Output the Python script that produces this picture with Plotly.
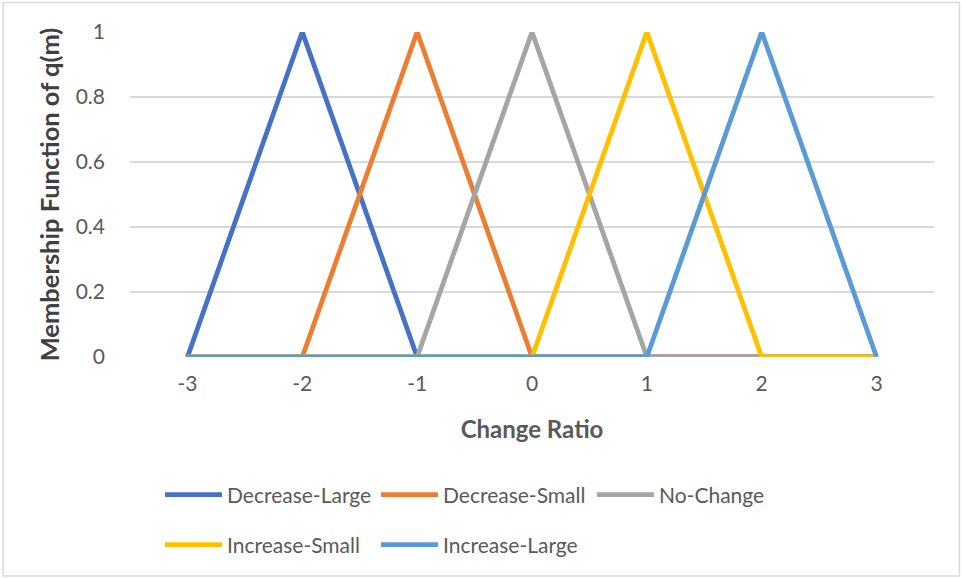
import plotly.graph_objects as go

# Change-ratio categories and triangular membership values per fuzzy set
change_ratio = [-3, -2, -1, 0, 1, 2, 3]
tick_labels = ["-3", "-2", "-1", "0", "1", "2", "3"]

decrease_large = [0, 1, 0, 0, 0, 0, 0]
decrease_small = [0, 0, 1, 0, 0, 0, 0]
no_change = [0, 0, 0, 1, 0, 0, 0]
increase_small = [0, 0, 0, 0, 1, 0, 0]
increase_large = [0, 0, 0, 0, 0, 1, 0]

series = [
    ("Decrease-Large", decrease_large, "#4472C4", "legend"),
    ("Decrease-Small", decrease_small, "#ED7D31", "legend"),
    ("No-Change", no_change, "#A5A5A5", "legend"),
    ("Increase-Small", increase_small, "#FFC000", "legend2"),
    ("Increase-Large", increase_large, "#5B9BD5", "legend2"),
]

W, H = 962, 578
ML, MR, MT, MB = 129.5, 27.5, 32, 221
FONT = "Lato, 'Open Sans', sans-serif"
GRID = "#D9D9D9"
TEXT = "#595959"

fig = go.Figure()
for name, vals, color, leg in series:
    fig.add_trace(go.Scatter(
        x=change_ratio, y=vals, name=name, mode="lines",
        line=dict(color=color, width=4.8),
        legend=leg, hoverinfo="skip",
    ))

pw = W - ML - MR
ph = H - MT - MB

def px_x(p):
    return (p - ML) / pw

def px_y(p):
    return (H - MB - p) / ph

legend_style = dict(
    orientation="h", xref="container", yref="container",
    xanchor="left", yanchor="middle",
    entrywidth=144, itemwidth=57, font=dict(size=21, color=TEXT),
    bgcolor="rgba(0,0,0,0)",
)

fig.update_layout(
    width=W, height=H,
    margin=dict(l=ML, r=MR, t=MT, b=MB, autoexpand=False),
    paper_bgcolor="white", plot_bgcolor="white",
    font=dict(family=FONT, size=21, color=TEXT),
    showlegend=True,
    legend=dict(legend_style, x=160 / W, y=1 - 495 / H),
    legend2=dict(legend_style, x=160 / W, y=1 - 545 / H),
    xaxis=dict(
        range=[-3.5, 3.5], tickvals=change_ratio, ticktext=tick_labels,
        showgrid=False, zeroline=False, showline=False, ticks="",
        ticklabelstandoff=12, fixedrange=True,
        title=dict(text="<b>Change Ratio</b>", standoff=27,
                   font=dict(size=24, color=TEXT)),
    ),
    yaxis=dict(
        range=[0, 1], tickvals=[0, 0.2, 0.4, 0.6, 0.8, 1],
        ticktext=["0", "0.2", "0.4", "0.6", "0.8", "1"],
        showgrid=True, gridcolor=GRID, gridwidth=1.5,
        zeroline=False, showline=False, ticks="",
        ticklabelstandoff=24, fixedrange=True,
        title=dict(text="<b>Membership Function of q(m)</b>", standoff=8,
                   font=dict(size=25.5, color="#404040")),
    ),
    shapes=[
        dict(type="rect", xref="paper", yref="paper",
             x0=px_x(2.5), x1=px_x(960), y0=px_y(576), y1=px_y(2.5),
             line=dict(color=GRID, width=1.5), layer="below"),
    ],
)

fig.write_html("out.html")
